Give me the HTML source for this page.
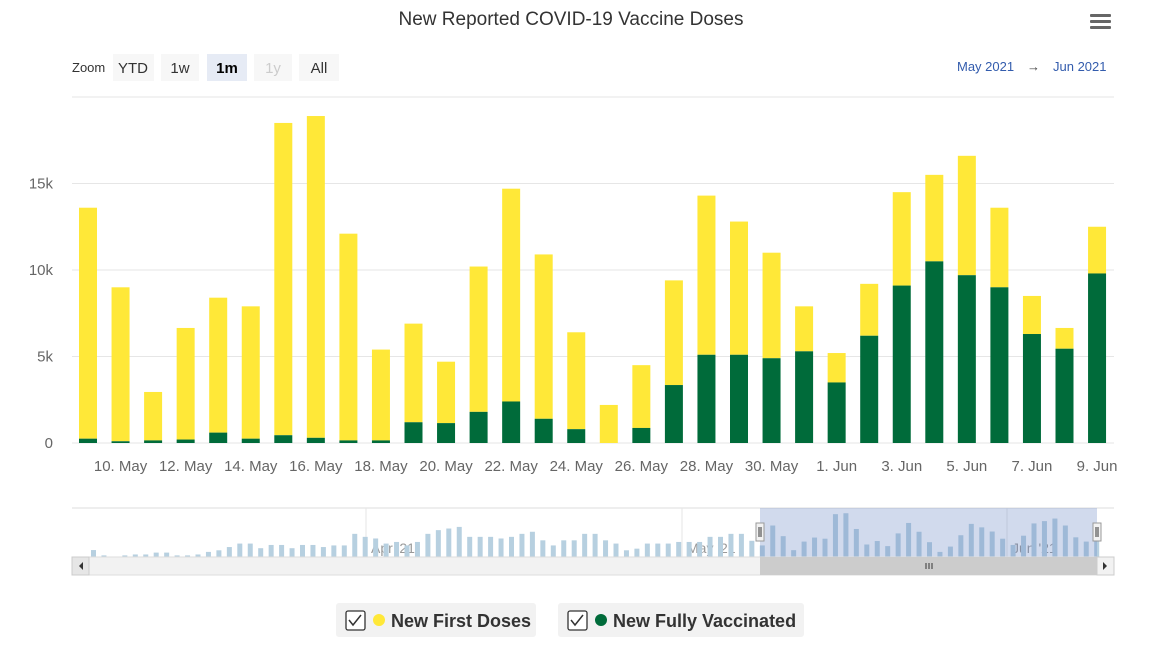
<!DOCTYPE html>
<html><head><meta charset="utf-8"><style>
body{margin:0;background:#fff;font-family:"Liberation Sans",sans-serif;}
svg text{font-family:"Liberation Sans",sans-serif;}
</style></head><body>
<svg id="c" width="1158" height="649" xmlns="http://www.w3.org/2000/svg">
<text x="571" y="25" text-anchor="middle" font-size="19" fill="#333">New Reported COVID-19 Vaccine Doses</text>
<g fill="#666"><rect x="1090" y="14" width="21" height="3" rx="1"/><rect x="1090" y="20" width="21" height="3" rx="1"/><rect x="1090" y="26" width="21" height="3" rx="1"/></g>
<text x="72" y="72" font-size="13" fill="#333">Zoom</text>
<g><rect x="113" y="54" width="41" height="27" fill="#f7f7f7"/><text x="133" y="73" text-anchor="middle" font-size="15" fill="#333">YTD</text></g>
<g><rect x="161" y="54" width="38" height="27" fill="#f7f7f7"/><text x="180" y="73" text-anchor="middle" font-size="15" fill="#333">1w</text></g>
<g><rect x="207" y="54" width="40" height="27" fill="#e6ebf5"/><text x="227" y="73" text-anchor="middle" font-size="15" font-weight="bold" fill="#000">1m</text></g>
<g><rect x="254" y="54" width="38" height="27" fill="#f7f7f7"/><text x="273" y="73" text-anchor="middle" font-size="15" fill="#ccc">1y</text></g>
<g><rect x="299" y="54" width="40" height="27" fill="#f7f7f7"/><text x="319" y="73" text-anchor="middle" font-size="15" fill="#333">All</text></g>
<text x="957" y="71" font-size="13" fill="#335cad">May 2021</text>
<text x="1027" y="71" font-size="13" fill="#444">→</text>
<text x="1053" y="71" font-size="13" fill="#335cad">Jun 2021</text>
<g id="grid"></g><g id="bars"></g><g id="xl"></g><g id="nav"></g>
<g><rect x="336" y="603" width="200" height="34" rx="3" fill="#f2f2f2"/><rect x="346" y="611" width="19" height="19" rx="2" fill="#fff" stroke="#333" stroke-width="1.3"/><path d="M349 620 l4 5 l8 -10" fill="none" stroke="#333" stroke-width="1.5"/><circle cx="379" cy="620" r="6" fill="#ffe838"/><text x="391" y="627" font-size="18" font-weight="bold" fill="#333">New First Doses</text></g>
<g><rect x="558" y="603" width="246" height="34" rx="3" fill="#f2f2f2"/><rect x="568" y="611" width="19" height="19" rx="2" fill="#fff" stroke="#333" stroke-width="1.3"/><path d="M571 620 l4 5 l8 -10" fill="none" stroke="#333" stroke-width="1.5"/><circle cx="601" cy="620" r="6" fill="#006b3a"/><text x="613" y="627" font-size="18" font-weight="bold" fill="#333">New Fully Vaccinated</text></g>
</svg>
<script>
const dates=["9","10","11","12","13","14","15","16","17","18","19","20","21","22","23","24","25","26","27","28","29","30","31","1","2","3","4","5","6","7","8","9"];
const months=["May","May","May","May","May","May","May","May","May","May","May","May","May","May","May","May","May","May","May","May","May","May","May","Jun","Jun","Jun","Jun","Jun","Jun","Jun","Jun","Jun"];
const fullyVaccinated=[250,100,150,200,600,250,450,300,150,150,1200,1150,1800,2400,1400,800,0,870,3350,5100,5100,4900,5300,3500,6200,9100,10500,9700,9000,6300,5450,9800];
const firstDoses=[13350,8900,2800,6450,7800,7650,18050,18600,11950,5250,5700,3550,8400,12300,9500,5600,2200,3630,6050,9200,7700,6100,2600,1700,3000,5400,5000,6900,4600,2200,1200,2700];
const yTicks=[0,5000,10000,15000,20000];
const navEarlier=[3000,700,0,700,1100,1100,1900,1900,700,700,1100,2200,2900,4300,5800,5800,3800,5200,5200,3800,5200,5200,4300,5000,5000,10000,8700,8000,5800,6500,5000,6500,10000,11600,12300,13000,8700,8700,8700,8000,8700,10000,10900,7200,5000,7200,7200,10000,10000,7200,5800,2900,3600,5800,5800,5800,6500,6500,6500,8700,8700,10000,10000,7000,5000];
const NS="http://www.w3.org/2000/svg";
function mk(t,a,p){const e=document.createElementNS(NS,t);for(const k in a)e.setAttribute(k,a[k]);p.appendChild(e);return e;}
const y=v=>443-v/20000*346;
const x=i=>88+i*32.55;
const grid=document.getElementById('grid');
yTicks.forEach(t=>{const l=mk('line',{x1:72,x2:1114,y1:y(t),y2:y(t),stroke:'#e6e6e6'},grid);


if(t<20000){const tx=mk('text',{x:53,y:y(t)+5,'text-anchor':'end','font-size':15,fill:'#666'},grid);tx.textContent=t?(t/1000)+'k':'0';

}});
const bars=document.getElementById('bars');
dates.forEach((d,i)=>{const g=fullyVaccinated[i],f=firstDoses[i];
const b1=mk('rect',{x:x(i)-9,width:18,y:y(g+f),height:y(g)-y(g+f),fill:'#ffe838'},bars);


const b2=mk('rect',{x:x(i)-9,width:18,y:y(g),height:443-y(g),fill:'#006b3a'},bars);


if(i%2==1){const t=mk('text',{x:x(i),y:471,'text-anchor':'middle','font-size':15,fill:'#666'},document.getElementById('xl'));t.textContent=d+'. '+months[i];

}});
const nav=document.getElementById('nav');
const navAll=navEarlier.concat(fullyVaccinated.map((g,i)=>g+firstDoses[i]));
const nx=i=>93+i*10.45;
const bg=mk('line',{x1:72,x2:1114,y1:508,y2:508,stroke:'#ddd'},nav);


[[366,"Apr '21"],[682,"May '21"],[1007,"Jun '21"]].forEach(([px,l])=>{mk('line',{x1:px,x2:px,y1:508,y2:557,stroke:'#e6e6e6'},nav);const t=mk('text',{x:px+5,y:553,'font-size':14,fill:'#999'},nav);t.textContent=l;

});
navAll.forEach((v,i)=>{const r=mk('rect',{x:nx(i)-2,width:5,y:557-v/19000*44,height:v/19000*44,fill:'#b7d0e0'},nav);

});
const sel=mk('rect',{x:760,y:508,width:337,height:49,fill:'rgba(102,133,194,0.3)'},nav);


const sb=mk('rect',{x:72,y:557,width:1042,height:18,fill:'#f2f2f2',stroke:'#ddd'},nav);


const th=mk('rect',{x:760,y:557,width:337,height:18,fill:'#cccccc'},nav);


mk('path',{d:'M926 563v6M929 563v6M932 563v6',stroke:'#333'},nav);
const la=mk('rect',{x:72,y:557,width:17,height:18,fill:'#e6e6e6',stroke:'#ccc'},nav);


mk('path',{d:'M83 562l-4 4 4 4z',fill:'#333'},nav);
const ra=mk('rect',{x:1097,y:557,width:17,height:18,fill:'#f2f2f2',stroke:'#ccc'},nav);


mk('path',{d:'M1103 562l4 4-4 4z',fill:'#333'},nav);
[760,1097].forEach(hx=>{const h=mk('rect',{x:hx-4,y:523,width:8,height:18,fill:'#f2f2f2',stroke:'#999'},nav);


mk('path',{d:`M${hx-1} 527v10M${hx+1} 527v10`,stroke:'#333'},nav);});
</script>
</body></html>
